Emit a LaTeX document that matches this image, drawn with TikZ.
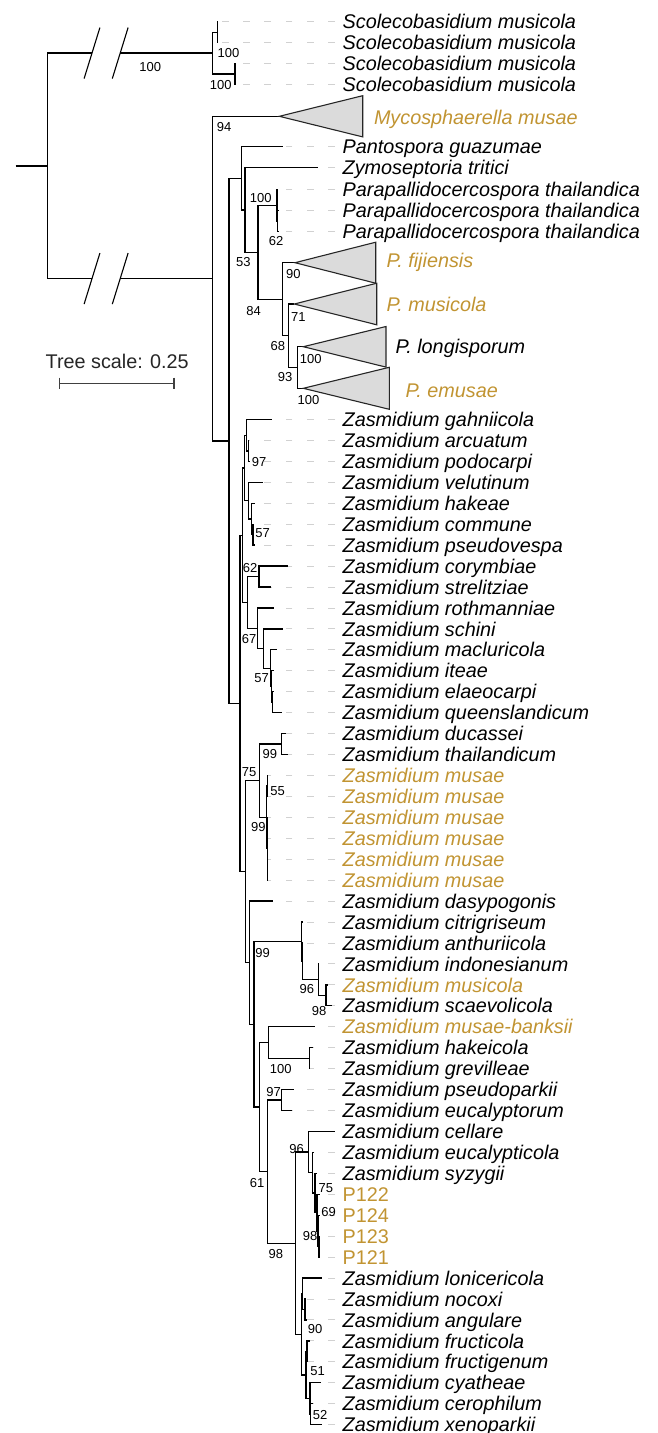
\documentclass[tikz,border=0pt]{standalone}
\usepackage{fontspec}
\setmainfont{Liberation Sans}
\usepackage{xcolor}
\usepackage{tikz}

\definecolor{musagold}{RGB}{193,148,50}
\newcommand{\taxsize}{\fontsize{19.8pt}{22pt}\selectfont}
\newcommand{\bootsize}{\fontsize{13pt}{15pt}\selectfont}

\begin{document}
\begin{tikzpicture}[
    x=1pt, y=-1pt,
    branch/.style={draw=black, line width=1.3pt},
    leader/.style={draw=black!18, line width=0.9pt, dash pattern=on 6.7pt off 14.6pt},
    clade/.style={draw=black!85, fill=black!14, line width=1.1pt},
    brk/.style={draw=black, line width=1.1pt},
    taxon/.style={anchor=west, inner xsep=7.7pt, inner ysep=0pt, outer sep=0pt, text height=14.2pt, text depth=0pt, font=\taxsize\itshape},
    banana/.style={taxon, text=musagold},
    strain/.style={taxon, font=\taxsize, text=musagold},
    collapsed/.style={taxon, inner xsep=0pt},
    boot/.style={inner sep=0pt, text height=9.3pt, text depth=0pt, font=\bootsize},
    scalebar/.style={draw=black!75, line width=1.1pt},
]
\useasboundingbox (0,0) rectangle (657,1433);

% Root and the two broken branches
\coordinate (stub) at (15.7,165.85);
\coordinate (nroot) at (47.3,165.85);
\coordinate (brk1) at (92,53.1);
\coordinate (brk2) at (120.2,53.1);
\coordinate (brk3) at (92,278.6);
\coordinate (brk4) at (120.2,278.6);

% Scolecobasidium (outgroup)
\coordinate (nsco) at (212.3,53.1);
\coordinate (nsco1) at (217.3,32.15);
\coordinate (nsco2) at (235,74);
\coordinate (sco1) at (218,21.7);
\coordinate (sco2) at (218,42.6);
\coordinate (sco3) at (235.8,63.5);
\coordinate (sco4) at (235.8,84.5);

% Ingroup backbone
\coordinate (ninn) at (212.3,278.6);
\coordinate (myco) at (279.3,116.3);
\coordinate (nq) at (229,440.9);
\coordinate (nA1) at (241.3,178.3);
\coordinate (nA2) at (245,209.9);
\coordinate (nA3) at (258,252.2);
\coordinate (pant) at (283.3,146.7);
\coordinate (zymo) at (318.3,167.6);

% Parapallidocercospora and Pseudocercospora
\coordinate (npara) at (277,205.2);
\coordinate (npara2) at (277.5,221.1);
\coordinate (para1) at (277.8,189.3);
\coordinate (para2) at (278,210.5);
\coordinate (para3) at (278,231.7);
\coordinate (nF) at (282.3,299.2);
\coordinate (nG) at (288.3,335.75);
\coordinate (nH) at (297.7,367.5);
\coordinate (fiji) at (295,262.7);
\coordinate (pmus) at (294.3,304);
\coordinate (plon) at (303.3,346.7);
\coordinate (pemu) at (303.3,388.3);

% Zasmidium: upper part
\coordinate (nz0) at (240,703.45);
\coordinate (nza) at (242.3,535.16);
\coordinate (nza1) at (244.3,467.9);
\coordinate (nza1a) at (246.7,435.2);
\coordinate (n97a) at (248.3,450.9);
\coordinate (nza1b) at (248.3,500.64);
\coordinate (nhak) at (251.7,519);
\coordinate (n57a) at (253,534.65);
\coordinate (nza2) at (247.7,602.4);
\coordinate (n62) at (259,576.55);
\coordinate (nza2b) at (257.7,628.25);
\coordinate (nza2c) at (263.3,648.5);
\coordinate (nza2d) at (270.7,668.15);
\coordinate (nza2e) at (271.7,686.5);
\coordinate (nza2f) at (272.7,702.2);
\coordinate (gahn) at (272.3,419.5);
\coordinate (arcu) at (249,440.4);
\coordinate (podo) at (250,461.4);
\coordinate (velu) at (262.7,482.3);
\coordinate (hake) at (255,503.3);
\coordinate (comm) at (253.7,524.2);
\coordinate (pseu) at (255,545.1);
\coordinate (cory) at (287.7,566.1);
\coordinate (stre) at (270.7,587);
\coordinate (roth) at (274,608);
\coordinate (schi) at (283.3,628.9);
\coordinate (macl) at (277.3,649.8);
\coordinate (itea) at (273.5,670.8);
\coordinate (elae) at (274,691.7);
\coordinate (quee) at (282.3,712.7);

% Zasmidium: middle part
\coordinate (nzb) at (245.7,871.7);
\coordinate (n75) at (259.3,780.7);
\coordinate (n99a) at (281.7,744.05);
\coordinate (nmus) at (266.7,817.4);
\coordinate (nmus1) at (267.3,785.95);
\coordinate (nmus2) at (267.3,848.8);
\coordinate (nzc) at (249.3,962.75);
\coordinate (nzd) at (254,1024.4);
\coordinate (n99b) at (301.7,941.7);
\coordinate (n99c) at (302.3,961.3);
\coordinate (n96a) at (318.3,979.6);
\coordinate (n98a) at (326,995.35);
\coordinate (duca) at (285.7,733.6);
\coordinate (thai) at (288.3,754.5);
\coordinate (musa1) at (267.8,775.5);
\coordinate (musa2) at (267.8,796.4);
\coordinate (musa3) at (267.8,817.4);
\coordinate (musa4) at (267.8,838.3);
\coordinate (musa5) at (267.8,859.2);
\coordinate (musa6) at (267.8,880.2);
\coordinate (dasy) at (272.7,901.1);
\coordinate (citr) at (302.5,922.1);
\coordinate (anth) at (303,943);
\coordinate (indo) at (319,963.9);
\coordinate (musi) at (328.3,984.9);
\coordinate (scae) at (331.7,1005.8);

% Zasmidium: lower part
\coordinate (n61) at (259.3,1107.1);
\coordinate (nmb) at (268.3,1042.5);
\coordinate (n100) at (309.3,1058.15);
\coordinate (n98b) at (267.7,1171.6);
\coordinate (n97b) at (281.7,1100.05);
\coordinate (nlow) at (295.7,1243.2);
\coordinate (n96b) at (308.3,1152.1);
\coordinate (nna) at (312.3,1172.7);
\coordinate (nnb) at (315,1192.95);
\coordinate (nnc) at (317,1212.6);
\coordinate (nnd) at (318,1230.95);
\coordinate (nne) at (319,1246.65);
\coordinate (nb1) at (301.5,1334.3);
\coordinate (nu) at (302.7,1293.75);
\coordinate (nv) at (305,1309.45);
\coordinate (nl) at (306,1374.9);
\coordinate (nw) at (307,1351.35);
\coordinate (nx) at (310,1398.45);
\coordinate (ny) at (310.5,1414.15);
\coordinate (mbank) at (315,1026.8);
\coordinate (hakc) at (313.3,1047.7);
\coordinate (grev) at (310,1068.6);
\coordinate (pspa) at (294.3,1089.6);
\coordinate (euca) at (291.7,1110.5);
\coordinate (cell) at (335,1131.5);
\coordinate (eucp) at (314,1152.4);
\coordinate (syzy) at (316.5,1173.3);
\coordinate (p122) at (319.8,1194.3);
\coordinate (p124) at (319.8,1215.2);
\coordinate (p123) at (319.8,1236.2);
\coordinate (p121) at (319.8,1257.1);
\coordinate (loni) at (321.7,1278);
\coordinate (noco) at (306,1299);
\coordinate (angu) at (306.7,1319.9);
\coordinate (fruc) at (310,1340.9);
\coordinate (frug) at (308,1361.8);
\coordinate (cyat) at (320.7,1382.7);
\coordinate (cero) at (313,1403.7);
\coordinate (xeno) at (321.7,1424.6);

% === Branches ===
\draw[branch] (stub) -- (nroot);
\draw[branch] (nroot) |- (brk1);
\draw[branch] (brk2) -- (nsco);
\draw[branch] (nroot) |- (brk3);
\draw[branch] (brk4) -- (ninn);
\draw[brk] ([shift={(-7.9,25.5)}]brk1) -- ([shift={(7.9,-25.5)}]brk1);
\draw[brk] ([shift={(-7.9,25.5)}]brk2) -- ([shift={(7.9,-25.5)}]brk2);
\draw[brk] ([shift={(-7.9,25.5)}]brk3) -- ([shift={(7.9,-25.5)}]brk3);
\draw[brk] ([shift={(-7.9,25.5)}]brk4) -- ([shift={(7.9,-25.5)}]brk4);

\draw[branch] (nsco) |- (nsco1);
\draw[branch] (nsco) |- (nsco2);
\draw[branch] (nsco1) |- (sco1);
\draw[branch] (nsco1) |- (sco2);
\draw[branch] (nsco2) |- (sco3);
\draw[branch] (nsco2) |- (sco4);

\draw[branch] (ninn) |- (myco);
\draw[branch] (ninn) |- (nq);
\draw[branch] (nq) |- (nA1);
\draw[branch] (nq) |- (nz0);
\draw[branch] (nA1) |- (pant);
\draw[branch] (nA1) |- (nA2);
\draw[branch] (nA2) |- (zymo);
\draw[branch] (nA2) |- (nA3);
\draw[branch] (nA3) |- (npara);
\draw[branch] (nA3) |- (nF);
\draw[branch] (npara) |- (para1);
\draw[branch] (npara) |- (npara2);
\draw[branch] (npara2) |- (para2);
\draw[branch] (npara2) |- (para3);
\draw[branch] (nF) |- (fiji);
\draw[branch] (nF) |- (nG);
\draw[branch] (nG) |- (pmus);
\draw[branch] (nG) |- (nH);
\draw[branch] (nH) |- (plon);
\draw[branch] (nH) |- (pemu);

\draw[branch] (nz0) |- (nza);
\draw[branch] (nz0) |- (nzb);
\draw[branch] (nza) |- (nza1);
\draw[branch] (nza) |- (nza2);
\draw[branch] (nza1) |- (nza1a);
\draw[branch] (nza1) |- (nza1b);
\draw[branch] (nza1a) |- (gahn);
\draw[branch] (nza1a) |- (n97a);
\draw[branch] (n97a) |- (arcu);
\draw[branch] (n97a) |- (podo);
\draw[branch] (nza1b) |- (velu);
\draw[branch] (nza1b) |- (nhak);
\draw[branch] (nhak) |- (hake);
\draw[branch] (nhak) |- (n57a);
\draw[branch] (n57a) |- (comm);
\draw[branch] (n57a) |- (pseu);
\draw[branch] (nza2) |- (n62);
\draw[branch] (nza2) |- (nza2b);
\draw[branch] (n62) |- (cory);
\draw[branch] (n62) |- (stre);
\draw[branch] (nza2b) |- (roth);
\draw[branch] (nza2b) |- (nza2c);
\draw[branch] (nza2c) |- (schi);
\draw[branch] (nza2c) |- (nza2d);
\draw[branch] (nza2d) |- (macl);
\draw[branch] (nza2d) |- (nza2e);
\draw[branch] (nza2e) |- (itea);
\draw[branch] (nza2e) |- (nza2f);
\draw[branch] (nza2f) |- (elae);
\draw[branch] (nza2f) |- (quee);

\draw[branch] (nzb) |- (n75);
\draw[branch] (nzb) |- (nzc);
\draw[branch] (n75) |- (n99a);
\draw[branch] (n75) |- (nmus);
\draw[branch] (n99a) |- (duca);
\draw[branch] (n99a) |- (thai);
\draw[branch] (nmus) |- (nmus1);
\draw[branch] (nmus) |- (nmus2);
\draw[branch] (nmus1) |- (musa1);
\draw[branch] (nmus1) |- (musa2);
\draw[branch] (nmus2) |- (musa3);
\draw[branch] (nmus2) |- (musa4);
\draw[branch] (nmus2) |- (musa5);
\draw[branch] (nmus2) |- (musa6);
\draw[branch] (nzc) |- (dasy);
\draw[branch] (nzc) |- (nzd);
\draw[branch] (nzd) |- (n99b);
\draw[branch] (nzd) |- (n61);
\draw[branch] (n99b) |- (citr);
\draw[branch] (n99b) |- (n99c);
\draw[branch] (n99c) |- (anth);
\draw[branch] (n99c) |- (n96a);
\draw[branch] (n96a) |- (indo);
\draw[branch] (n96a) |- (n98a);
\draw[branch] (n98a) |- (musi);
\draw[branch] (n98a) |- (scae);

\draw[branch] (n61) |- (nmb);
\draw[branch] (n61) |- (n98b);
\draw[branch] (nmb) |- (mbank);
\draw[branch] (nmb) |- (n100);
\draw[branch] (n100) |- (hakc);
\draw[branch] (n100) |- (grev);
\draw[branch] (n98b) |- (n97b);
\draw[branch] (n98b) |- (nlow);
\draw[branch] (n97b) |- (pspa);
\draw[branch] (n97b) |- (euca);
\draw[branch] (nlow) |- (n96b);
\draw[branch] (nlow) |- (nb1);
\draw[branch] (n96b) |- (cell);
\draw[branch] (n96b) |- (nna);
\draw[branch] (nna) |- (eucp);
\draw[branch] (nna) |- (nnb);
\draw[branch] (nnb) |- (syzy);
\draw[branch] (nnb) |- (nnc);
\draw[branch] (nnc) |- (p122);
\draw[branch] (nnc) |- (nnd);
\draw[branch] (nnd) |- (p124);
\draw[branch] (nnd) |- (nne);
\draw[branch] (nne) |- (p123);
\draw[branch] (nne) |- (p121);
\draw[branch] (nb1) |- (nu);
\draw[branch] (nb1) |- (nl);
\draw[branch] (nu) |- (loni);
\draw[branch] (nu) |- (nv);
\draw[branch] (nv) |- (noco);
\draw[branch] (nv) |- (angu);
\draw[branch] (nl) |- (nw);
\draw[branch] (nl) |- (nx);
\draw[branch] (nw) |- (fruc);
\draw[branch] (nw) |- (frug);
\draw[branch] (nx) |- (cyat);
\draw[branch] (nx) |- (ny);
\draw[branch] (ny) |- (cero);
\draw[branch] (ny) |- (xeno);

% === Collapsed clades ===
\draw[clade] (myco) -- ++(83.4,-20.6) -- ++(0,41.2) -- cycle;
\draw[clade] (fiji) -- ++(80.7,-20.5) -- ++(0,41) -- cycle;
\draw[clade] (pmus) -- ++(82.4,-20.8) -- ++(0,41.6) -- cycle;
\draw[clade] (plon) -- ++(82.7,-20.2) -- ++(0,40.6) -- cycle;
\draw[clade] (pemu) -- ++(86,-21) -- ++(0,42) -- cycle;
\node[collapsed, text=musagold] (mycolab) at (374,117.3) {Mycosphaerella musae};
\node[collapsed, text=musagold] (fijilab) at (386.7,260.7) {P. fijiensis};
\node[collapsed, text=musagold] (pmuslab) at (386.7,304) {P. musicola};
\node[collapsed] (plonlab) at (395.7,346.7) {P. longisporum};
\node[collapsed, text=musagold] (pemulab) at (405.7,390) {P. emusae};

% === Leaf labels ===
\node[taxon] (sco1lab) at (335,21.7) {Scolecobasidium musicola};
\node[taxon] (sco2lab) at (335,42.6) {Scolecobasidium musicola};
\node[taxon] (sco3lab) at (335,63.5) {Scolecobasidium musicola};
\node[taxon] (sco4lab) at (335,84.5) {Scolecobasidium musicola};
\node[taxon] (pantlab) at (335,146.7) {Pantospora guazumae};
\node[taxon] (zymolab) at (335,167.6) {Zymoseptoria tritici};
\node[taxon] (para1lab) at (335,189.3) {Parapallidocercospora thailandica};
\node[taxon] (para2lab) at (335,210.5) {Parapallidocercospora thailandica};
\node[taxon] (para3lab) at (335,231.7) {Parapallidocercospora thailandica};
\node[taxon] (gahnlab) at (335,419.5) {Zasmidium gahniicola};
\node[taxon] (arculab) at (335,440.4) {Zasmidium arcuatum};
\node[taxon] (podolab) at (335,461.4) {Zasmidium podocarpi};
\node[taxon] (velulab) at (335,482.3) {Zasmidium velutinum};
\node[taxon] (hakelab) at (335,503.3) {Zasmidium hakeae};
\node[taxon] (commlab) at (335,524.2) {Zasmidium commune};
\node[taxon] (pseulab) at (335,545.1) {Zasmidium pseudovespa};
\node[taxon] (corylab) at (335,566.1) {Zasmidium corymbiae};
\node[taxon] (strelab) at (335,587) {Zasmidium strelitziae};
\node[taxon] (rothlab) at (335,608) {Zasmidium rothmanniae};
\node[taxon] (schilab) at (335,628.9) {Zasmidium schini};
\node[taxon] (macllab) at (335,649.8) {Zasmidium macluricola};
\node[taxon] (itealab) at (335,670.8) {Zasmidium iteae};
\node[taxon] (elaelab) at (335,691.7) {Zasmidium elaeocarpi};
\node[taxon] (queelab) at (335,712.7) {Zasmidium queenslandicum};
\node[taxon] (ducalab) at (335,733.6) {Zasmidium ducassei};
\node[taxon] (thailab) at (335,754.5) {Zasmidium thailandicum};
\node[banana] (musa1lab) at (335,775.5) {Zasmidium musae};
\node[banana] (musa2lab) at (335,796.4) {Zasmidium musae};
\node[banana] (musa3lab) at (335,817.4) {Zasmidium musae};
\node[banana] (musa4lab) at (335,838.3) {Zasmidium musae};
\node[banana] (musa5lab) at (335,859.2) {Zasmidium musae};
\node[banana] (musa6lab) at (335,880.2) {Zasmidium musae};
\node[taxon] (dasylab) at (335,901.1) {Zasmidium dasypogonis};
\node[taxon] (citrlab) at (335,922.1) {Zasmidium citrigriseum};
\node[taxon] (anthlab) at (335,943) {Zasmidium anthuriicola};
\node[taxon] (indolab) at (335,963.9) {Zasmidium indonesianum};
\node[banana] (musilab) at (335,984.9) {Zasmidium musicola};
\node[taxon] (scaelab) at (335,1005.8) {Zasmidium scaevolicola};
\node[banana] (mbanklab) at (335,1026.8) {Zasmidium musae-banksii};
\node[taxon] (hakclab) at (335,1047.7) {Zasmidium hakeicola};
\node[taxon] (grevlab) at (335,1068.6) {Zasmidium grevilleae};
\node[taxon] (pspalab) at (335,1089.6) {Zasmidium pseudoparkii};
\node[taxon] (eucalab) at (335,1110.5) {Zasmidium eucalyptorum};
\node[taxon] (celllab) at (335,1131.5) {Zasmidium cellare};
\node[taxon] (eucplab) at (335,1152.4) {Zasmidium eucalypticola};
\node[taxon] (syzylab) at (335,1173.3) {Zasmidium syzygii};
\node[strain] (p122lab) at (335,1194.3) {P122};
\node[strain] (p124lab) at (335,1215.2) {P124};
\node[strain] (p123lab) at (335,1236.2) {P123};
\node[strain] (p121lab) at (335,1257.1) {P121};
\node[taxon] (lonilab) at (335,1278) {Zasmidium lonicericola};
\node[taxon] (nocolab) at (335,1299) {Zasmidium nocoxi};
\node[taxon] (angulab) at (335,1319.9) {Zasmidium angulare};
\node[taxon] (fruclab) at (335,1340.9) {Zasmidium fructicola};
\node[taxon] (fruglab) at (335,1361.8) {Zasmidium fructigenum};
\node[taxon] (cyatlab) at (335,1382.7) {Zasmidium cyatheae};
\node[taxon] (cerolab) at (335,1403.7) {Zasmidium cerophilum};
\node[taxon] (xenolab) at (335,1424.6) {Zasmidium xenoparkii};

% === Leaders (grey dashed) ===
\draw[leader] (sco1lab) -- (sco1);
\draw[leader] (sco2lab) -- (sco2);
\draw[leader] (sco3lab) -- (sco3);
\draw[leader] (sco4lab) -- (sco4);
\draw[leader] (pantlab) -- (pant);
\draw[leader] (zymolab) -- (zymo);
\draw[leader] (para1lab) -- (para1);
\draw[leader] (para2lab) -- (para2);
\draw[leader] (para3lab) -- (para3);
\draw[leader] (gahnlab) -- (gahn);
\draw[leader] (arculab) -- (arcu);
\draw[leader] (podolab) -- (podo);
\draw[leader] (velulab) -- (velu);
\draw[leader] (hakelab) -- (hake);
\draw[leader] (commlab) -- (comm);
\draw[leader] (pseulab) -- (pseu);
\draw[leader] (corylab) -- (cory);
\draw[leader] (strelab) -- (stre);
\draw[leader] (rothlab) -- (roth);
\draw[leader] (schilab) -- (schi);
\draw[leader] (macllab) -- (macl);
\draw[leader] (itealab) -- (itea);
\draw[leader] (elaelab) -- (elae);
\draw[leader] (queelab) -- (quee);
\draw[leader] (ducalab) -- (duca);
\draw[leader] (thailab) -- (thai);
\draw[leader] (musa1lab) -- (musa1);
\draw[leader] (musa2lab) -- (musa2);
\draw[leader] (musa3lab) -- (musa3);
\draw[leader] (musa4lab) -- (musa4);
\draw[leader] (musa5lab) -- (musa5);
\draw[leader] (musa6lab) -- (musa6);
\draw[leader] (dasylab) -- (dasy);
\draw[leader] (citrlab) -- (citr);
\draw[leader] (anthlab) -- (anth);
\draw[leader] (indolab) -- (indo);
\draw[leader] (musilab) -- (musi);
\draw[leader] (scaelab) -- (scae);
\draw[leader] (mbanklab) -- (mbank);
\draw[leader] (hakclab) -- (hakc);
\draw[leader] (grevlab) -- (grev);
\draw[leader] (pspalab) -- (pspa);
\draw[leader] (eucalab) -- (euca);
\draw[leader] (eucplab) -- (eucp);
\draw[leader] (syzylab) -- (syzy);
\draw[leader] (p122lab) -- (p122);
\draw[leader] (p124lab) -- (p124);
\draw[leader] (p123lab) -- (p123);
\draw[leader] (p121lab) -- (p121);
\draw[leader] (lonilab) -- (loni);
\draw[leader] (nocolab) -- (noco);
\draw[leader] (angulab) -- (angu);
\draw[leader] (fruclab) -- (fruc);
\draw[leader] (fruglab) -- (frug);
\draw[leader] (cyatlab) -- (cyat);
\draw[leader] (cerolab) -- (cero);
\draw[leader] (xenolab) -- (xeno);

% === Bootstrap support ===
\node[boot] (broot) at (150.2,66.7) {100};
\node[boot] (bsco1) at (228.5,53.3) {100};
\node[boot] (bsco2) at (220.8,84.5) {100};
\node[boot] (binn) at (224.2,126.7) {94};
\node[boot] (bpara) at (260.8,198) {100};
\node[boot] (bpara2) at (276.2,241.3) {62};
\node[boot] (bA2) at (243.3,261.7) {53};
\node[boot] (bfiji) at (293.3,273.7) {90};
\node[boot] (bA3) at (253.5,310.5) {84};
\node[boot] (bpmus) at (298.3,317.3) {71};
\node[boot] (bF) at (277.8,346) {68};
\node[boot] (bplon) at (310.8,359) {100};
\node[boot] (bG) at (285,376.7) {93};
\node[boot] (bpemu) at (308.5,400) {100};
\node[boot] (b97a) at (259.2,462) {97};
\node[boot] (b57a) at (262.5,533.3) {57};
\node[boot] (b62) at (250,568.3) {62};
\node[boot] (b67) at (249.2,639.3) {67};
\node[boot] (b57b) at (261.5,677.7) {57};
\node[boot] (b99a) at (269.8,754) {99};
\node[boot] (b75) at (249.2,772.3) {75};
\node[boot] (b55) at (277.5,791) {55};
\node[boot] (b99m) at (258.3,826.7) {99};
\node[boot] (b99b) at (262.5,952.7) {99};
\node[boot] (b96a) at (306.8,989.3) {96};
\node[boot] (b98a) at (319.2,1010.7) {98};
\node[boot] (b100) at (280.8,1069) {100};
\node[boot] (b97b) at (273.5,1091.7) {97};
\node[boot] (b96b) at (296.7,1149) {96};
\node[boot] (b61) at (257,1182.7) {61};
\node[boot] (b75b) at (325.8,1187.7) {75};
\node[boot] (b69) at (328.5,1211.7) {69};
\node[boot] (b98c) at (310,1235.7) {98};
\node[boot] (b98b) at (275.8,1254) {98};
\node[boot] (b90) at (315.2,1329.3) {90};
\node[boot] (b51) at (317.5,1370.7) {51};
\node[boot] (b52) at (320.2,1415) {52};

% === Tree scale ===
\node[inner sep=0pt, text height=14pt, text depth=0pt, font=\taxsize, text=black!85] (scaletxt) at (117.2,361.7) {Tree scale: 0.25};
\coordinate (barl) at (59.3,383.3);
\coordinate (barr) at (174,383.3);
\draw[scalebar] (barl) -- (barr);
\draw[scalebar] ([yshift=5.6pt]barl) -- ([yshift=-5.6pt]barl);
\draw[scalebar] ([yshift=5.6pt]barr) -- ([yshift=-5.6pt]barr);

\end{tikzpicture}
\end{document}
